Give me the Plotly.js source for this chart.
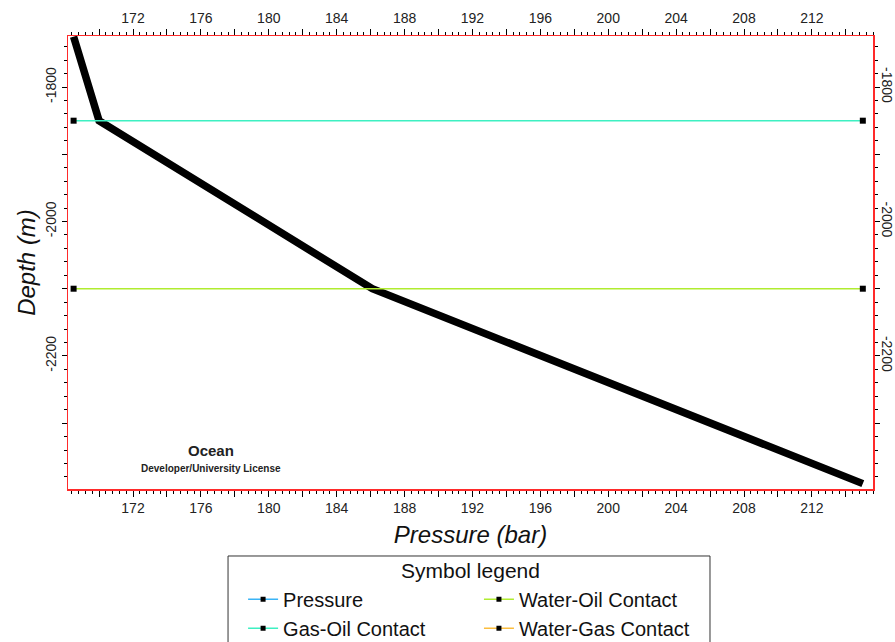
<!DOCTYPE html>
<html><head><meta charset="utf-8">
<script src="https://cdn.plot.ly/plotly-3.0.1.min.js"></script>
<style>html,body{margin:0;padding:0;background:#fff}#chart{width:895px;height:642px}</style>
</head><body><div id="chart"></div>
<script>
// ---- data ----
const pressureBar   = [168.5, 170.0, 186.1, 215.0];
const pressureDepth = [-1725, -1850, -2100, -2390];
const gocPressure = [168.5, 215.0];
const gocDepth    = [-1850, -1850];
const wocPressure = [168.5, 215.0];
const wocDepth    = [-2100, -2100];

const legendNamesCol1 = ['Pressure', 'Gas-Oil Contact'];
const legendColorsCol1 = ['#3ab4f6', '#3ef0c2'];
const legendNamesCol2 = ['Water-Oil Contact', 'Water-Gas Contact'];
const legendColorsCol2 = ['#b0ec30', '#fbbd3e'];

const xTickVals = [170,172,174,176,178,180,182,184,186,188,190,192,194,196,198,200,202,204,206,208,210,212,214];
const xTickText = ['','172','','176','','180','','184','','188','','192','','196','','200','','204','','208','','212',''];
const yTickVals = [-2300,-2200,-2100,-2000,-1900,-1800];
const yTickText = ['','-2200','','-2000','','-1800'];

const GOC_COLOR = '#3ef0c2';
const WOC_COLOR = '#b0ec30';
const FONT = 'Liberation Sans, Arial, sans-serif';
const RED = '#ff2a2a';

const traces = [
  {x: pressureBar, y: pressureDepth, mode: 'lines', line: {color: '#000', width: 7.5}, showlegend: false, hoverinfo: 'skip'},
  {x: gocPressure, y: gocDepth, mode: 'lines+markers', line: {color: GOC_COLOR, width: 1.6},
   marker: {symbol: 'square', size: 6, color: '#000'}, showlegend: false},
  {x: wocPressure, y: wocDepth, xaxis: 'x2', yaxis: 'y2', mode: 'lines+markers', line: {color: WOC_COLOR, width: 1.6},
   marker: {symbol: 'square', size: 6, color: '#000'}, showlegend: false}
];
legendNamesCol1.forEach((n, i) => traces.push({x: [null], y: [null], name: n, legend: 'legend', mode: 'lines+markers',
  line: {color: legendColorsCol1[i], width: 1.5}, marker: {symbol: 'square', size: 5, color: '#000'}}));
legendNamesCol2.forEach((n, i) => traces.push({x: [null], y: [null], name: n, legend: 'legend2', mode: 'lines+markers',
  line: {color: legendColorsCol2[i], width: 1.5}, marker: {symbol: 'square', size: 5, color: '#000'}}));

const xRange = [168.17, 215.6];
const yRange = [-2398, -1724];
const tickFont = {family: FONT, size: 14, color: '#222'};

function xAxis(side) {
  return {range: xRange, side: side, showgrid: false, zeroline: false, showline: true, linecolor: RED, linewidth: 1.5,
    ticks: 'outside', ticklen: 6, tickwidth: 1, tickcolor: '#000', tickmode: 'array', tickvals: xTickVals, ticktext: xTickText,
    minor: {dtick: 0.4, ticks: 'outside', ticklen: 3, tickcolor: '#000', tickwidth: 1},
    tickfont: tickFont, fixedrange: true, automargin: false};
}
function yAxis(side, angle) {
  return {range: yRange, side: side, showgrid: false, zeroline: false, showline: true, linecolor: RED, linewidth: 1.5,
    ticks: 'outside', ticklen: 5, tickwidth: 1, tickcolor: '#000', tickmode: 'array', tickvals: yTickVals, ticktext: yTickText,
    tickangle: angle,
    minor: {dtick: 20, ticks: 'outside', ticklen: 3, tickcolor: '#000', tickwidth: 1},
    tickfont: tickFont, fixedrange: true, automargin: false};
}

const xa = xAxis('bottom');
xa.title = {text: 'Pressure (bar)', font: {family: FONT, size: 24, style: 'italic', color: '#111'}, standoff: 11};
const xa2 = xAxis('top'); xa2.overlaying = 'x'; xa2.anchor = 'y';
const ya = yAxis('left', -90);
ya.title = {text: 'Depth (m)', font: {family: FONT, size: 24, style: 'italic', color: '#111'}, standoff: 0};
const ya2 = yAxis('right', 90); ya2.overlaying = 'y'; ya2.anchor = 'x'; ya2.ticklabelstandoff = -3;

const legendCommon = {orientation: 'v', bgcolor: 'rgba(0,0,0,0)', borderwidth: 0, xanchor: 'left', yanchor: 'top',
  font: {family: FONT, size: 20, color: '#111'}, tracegroupgap: 0, itemclick: false, itemdoubleclick: false};

const layout = {
  width: 895, height: 642,
  margin: {l: 68, r: 22, t: 36, b: 153, autoexpand: false},
  paper_bgcolor: '#fff', plot_bgcolor: '#fff',
  xaxis: xa, xaxis2: xa2, yaxis: ya, yaxis2: ya2,
  legend: Object.assign({}, legendCommon, {x: 0.2175, y: -0.2006}),
  legend2: Object.assign({}, legendCommon, {x: 0.5105, y: -0.2006}),
  shapes: [
    {type: 'rect', xref: 'paper', yref: 'paper', x0: 0.1988, x1: 0.7975, y0: -0.1479, y1: -0.40,
     line: {color: '#333', width: 1}, fillcolor: 'rgba(0,0,0,0)'}
  ],
  annotations: [
    {text: 'Symbol legend', xref: 'paper', yref: 'paper', x: 0.4994, y: -0.179, xanchor: 'center', yanchor: 'middle',
     showarrow: false, font: {family: FONT, size: 21, color: '#111'}},
    {text: '<b>Ocean</b>', xref: 'paper', yref: 'paper', x: 0.178, y: 0.084, xanchor: 'center', yanchor: 'middle',
     showarrow: false, font: {family: FONT, size: 15, color: '#222'}},
    {text: '<b>Developer/University License</b>', xref: 'paper', yref: 'paper', x: 0.178, y: 0.046, xanchor: 'center', yanchor: 'middle',
     showarrow: false, font: {family: FONT, size: 10, color: '#222'}}
  ],
  showlegend: true
};

Plotly.newPlot('chart', traces, layout, {displayModeBar: false, staticPlot: true});
</script>
</body></html>
